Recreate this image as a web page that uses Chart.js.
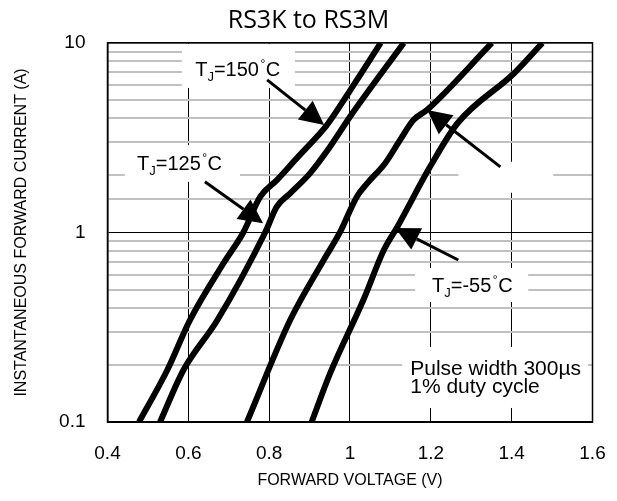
<!DOCTYPE html>
<html>
<head>
<meta charset="utf-8">
<script src="https://cdn.jsdelivr.net/npm/chart.js@4.4.1/dist/chart.umd.min.js"></script>
<style>
html,body{margin:0;padding:0;background:#fff;overflow:hidden}
#wrap{position:relative;width:617px;height:501px}
canvas{display:block}
</style>
</head>
<body>
<div id="wrap"><canvas id="vfChart"></canvas></div>
<script>
// forward voltage (V) / forward current (A)
const tj150V = [0.478, 0.548, 0.604, 0.687, 0.736, 0.778, 0.819, 0.868, 0.918, 0.943, 1.0, 1.076];
const tj150I = [0.1, 0.188, 0.345, 0.688, 1, 1.545, 1.89, 2.46, 3.2, 3.69, 5.6, 10];
const tj125V = [0.53, 0.588, 0.672, 0.79, 0.819, 0.852, 0.901, 0.951, 1.0, 1.133];
const tj125I = [0.1, 0.188, 0.345, 1, 1.368, 1.61, 2.05, 2.84, 4.08, 10];
const tj25V = [0.745, 0.852, 0.935, 0.975, 1.017, 1.043, 1.087, 1.124, 1.157, 1.191, 1.351];
const tj25I = [0.1, 0.345, 0.716, 1, 1.545, 1.82, 2.32, 3.08, 3.92, 4.44, 10];
const tjM55V = [0.905, 0.951, 1.033, 1.084, 1.117, 1.198, 1.266, 1.406, 1.476];
const tjM55I = [0.1, 0.181, 0.44, 0.81, 1.07, 2.22, 3.77, 6.92, 10];

const xTicks = [0.4, 0.6, 0.8, 1, 1.2, 1.4, 1.6];
const yLabels = [0.1, 1, 10];

const FONT = 'Arial, "Liberation Sans", sans-serif';

// label boxes / arrows, in data units (V, A)
const notes = [
  { temp: '150', box: [0.584, 0.864, 9.88, 5.79], text: [0.617, 6.70], arrow: [0.795, 6.38, 0.936, 3.69] },
  { temp: '125', box: [0.443, 0.728, 2.89, 1.85], text: [0.473, 2.14], arrow: [0.641, 1.85, 0.785, 1.12] },
  { temp: null,  box: [1.268, 1.503, 2.36, 1.62], text: null, arrow: [1.372, 2.22, 1.191, 4.43] },
  { temp: '-55', box: [1.161, 1.441, 0.650, 0.430], text: [1.203, 0.485], arrow: [1.268, 0.716, 1.112, 1.056] }
];
const pulseBox = [1.129, 1.589, 0.249, 0.1186];
const pulseText = [1.149, 0.177, 0.1417];

const toPts = (vs, is) => vs.map((v, k) => ({ x: v, y: is[k] }));
const isDecade = v => Math.abs(Math.log10(v) - Math.round(Math.log10(v))) < 1e-6;

function arrow(ctx, x1, y1, x2, y2) {
  const a = Math.atan2(y2 - y1, x2 - x1);
  const L = 24, W = 12;
  const bx = x2 - L * Math.cos(a), by = y2 - L * Math.sin(a);
  ctx.beginPath();
  ctx.moveTo(x1, y1);
  ctx.lineTo(bx, by);
  ctx.lineWidth = 3;
  ctx.stroke();
  ctx.beginPath();
  ctx.moveTo(x2, y2);
  ctx.lineTo(bx + W * Math.sin(a), by - W * Math.cos(a));
  ctx.lineTo(bx - W * Math.sin(a), by + W * Math.cos(a));
  ctx.closePath();
  ctx.fill();
}

function tjLabel(ctx, px, py, temp) {
  let cx = px;
  const put = (s, font, dy) => {
    ctx.font = font;
    ctx.fillText(s, cx, py + dy);
    cx += ctx.measureText(s).width;
  };
  put('T', '20px ' + FONT, 0);
  put('J', '13px ' + FONT, 5);
  put('=' + temp, '20px ' + FONT, 0);
  cx += 1.5;
  put('°', '12px ' + FONT, -8);
  cx += 0.5;
  put('C', '20px ' + FONT, 0);
}

const annotations = {
  id: 'annotations',
  beforeDatasetsDraw(chart) {
    const { ctx, scales: { x, y } } = chart;
    ctx.save();
    ctx.fillStyle = '#fff';
    [...notes.map(n => n.box), pulseBox].forEach(b => {
      const x1 = x.getPixelForValue(b[0]), x2 = x.getPixelForValue(b[1]);
      const y1 = y.getPixelForValue(b[2]), y2 = y.getPixelForValue(b[3]);
      ctx.fillRect(x1, y1, x2 - x1, y2 - y1);
    });
    ctx.restore();
  },
  afterDatasetsDraw(chart) {
    const { ctx, chartArea: ca, scales: { x, y } } = chart;
    ctx.save();
    ctx.fillStyle = '#000';
    ctx.strokeStyle = '#000';
    ctx.textAlign = 'left';
    ctx.textBaseline = 'alphabetic';
    notes.forEach(n => {
      const a = n.arrow;
      arrow(ctx, x.getPixelForValue(a[0]), y.getPixelForValue(a[1]), x.getPixelForValue(a[2]), y.getPixelForValue(a[3]));
      if (n.temp) tjLabel(ctx, x.getPixelForValue(n.text[0]), y.getPixelForValue(n.text[1]), n.temp);
    });
    ctx.font = '21px ' + FONT;
    const px = x.getPixelForValue(pulseText[0]);
    ctx.fillText('Pulse width 300µs', px, y.getPixelForValue(pulseText[1]));
    ctx.fillText('1% duty cycle', px, y.getPixelForValue(pulseText[2]));
    // frame
    ctx.lineWidth = 1.5;
    ctx.strokeRect(ca.left, ca.top, ca.right - ca.left, ca.bottom - ca.top);
    ctx.restore();
  }
};

const curve = (label, vs, is) => ({
  label,
  data: toPts(vs, is),
  showLine: true,
  borderColor: '#000',
  backgroundColor: '#000',
  borderWidth: 6,
  pointRadius: 0,
  cubicInterpolationMode: 'monotone',
  clip: 0
});

new Chart(document.getElementById('vfChart'), {
  type: 'scatter',
  data: {
    datasets: [
      curve('TJ=150°C', tj150V, tj150I),
      curve('TJ=125°C', tj125V, tj125I),
      curve('TJ=25°C', tj25V, tj25I),
      curve('TJ=-55°C', tjM55V, tjM55I)
    ]
  },
  options: {
    responsive: true,
    maintainAspectRatio: false,
    animation: false,
    layout: { padding: 0 },
    plugins: {
      legend: { display: false },
      tooltip: { enabled: false },
      title: {
        display: true,
        text: 'RS3K to RS3M',
        color: '#000',
        font: { family: '"Open Sans", sans-serif', size: 25, weight: 'normal', lineHeight: 1.15 },
        padding: { top: 6, bottom: 8.2 }
      }
    },
    scales: {
      x: {
        type: 'linear',
        min: xTicks[0],
        max: xTicks[xTicks.length - 1],
        afterFit: s => { s.height = 79; s.paddingLeft = 0; s.paddingRight = 24.5; },
        afterBuildTicks: s => { s.ticks = xTicks.map(v => ({ value: v })); },
        grid: { color: '#000', lineWidth: 1, drawTicks: false },
        border: { display: true, color: '#000', width: 1.5 },
        ticks: {
          color: '#000',
          font: { family: FONT, size: 19 },
          padding: 20,
          maxRotation: 0,
          callback: v => String(+v.toFixed(1))
        },
        title: {
          display: true,
          text: 'FORWARD VOLTAGE (V)',
          color: '#000',
          font: { family: FONT, size: 16 },
          padding: { top: 0, bottom: 11 }
        }
      },
      y: {
        type: 'logarithmic',
        min: yLabels[0],
        max: yLabels[yLabels.length - 1],
        afterFit: s => { s.width = 107.5; },
        grid: {
          drawTicks: false,
          color: c => isDecade(c.tick.value) ? '#000' : '#c0c0c0',
          lineWidth: c => isDecade(c.tick.value) ? 1 : 2
        },
        border: { display: true, color: '#000', width: 1.5 },
        ticks: {
          color: '#000',
          autoSkip: false,
          font: { family: FONT, size: 19 },
          padding: 22,
          callback: v => yLabels.some(l => Math.abs(l - v) < 1e-9) ? String(v) : ''
        },
        title: {
          display: true,
          text: 'INSTANTANEOUS FORWARD CURRENT (A)',
          color: '#000',
          font: { family: FONT, size: 16 },
          padding: { top: 12, bottom: 0 }
        }
      }
    }
  },
  plugins: [annotations]
});
</script>
</body>
</html>
